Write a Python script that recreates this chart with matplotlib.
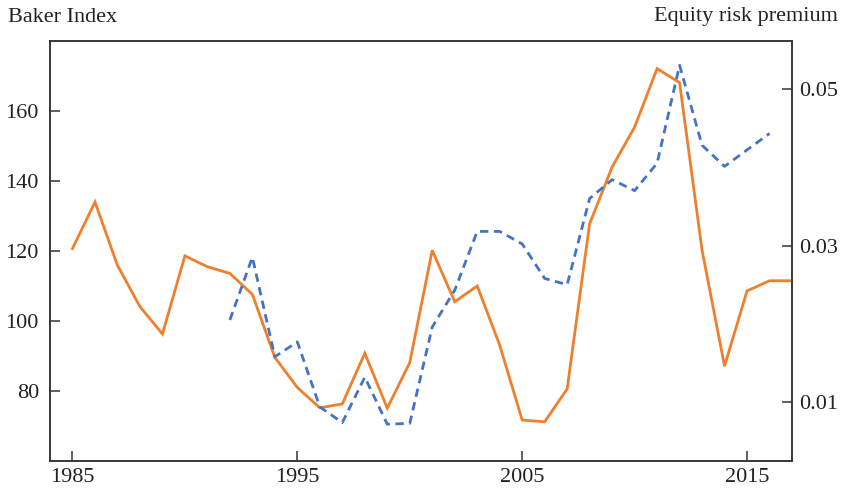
import matplotlib
matplotlib.use("Agg")
import matplotlib.pyplot as plt

# Baker index (left axis), annual 1985-2017
baker_years = list(range(1985, 2018))
baker_index = [120.7, 134.0, 115.9, 104.1, 96.3, 118.6, 115.5, 113.6, 107.6, 89.6,
               81.0, 75.2, 76.3, 90.8, 75.1, 88.1, 120.2, 105.5, 110.0, 93.1,
               71.7, 71.2, 80.6, 127.8, 144.0, 155.4, 172.1, 168.1, 120.2, 87.1,
               108.6, 111.5, 111.5]

# Equity risk premium (right axis), annual 1992-2016
erp_years = list(range(1992, 2017))
erp_values = [0.0205, 0.0285, 0.0158, 0.0177, 0.0094, 0.0074, 0.0132, 0.0072, 0.0073,
              0.0196, 0.0243, 0.0318, 0.0318, 0.0302, 0.0258, 0.0250, 0.0360, 0.0384,
              0.0370, 0.0405, 0.0530, 0.0428, 0.0401, 0.0422, 0.0443]

x_ticks = [1985, 1995, 2005, 2015]
left_ticks = [80, 100, 120, 140, 160]
right_ticks = [0.01, 0.03, 0.05]
right_tick_labels = ["0.01", "0.03", "0.05"]

plt.rcParams["font.family"] = ["Liberation Serif", "DejaVu Serif"]
plt.rcParams["font.size"] = 16

orange = "#F07F2D"
blue = "#4472C4"
spine_col = "#333333"
text_col = "#222222"

fig = plt.figure(figsize=(8.42, 4.88), dpi=100)
ax = fig.add_axes([50 / 842, 1 - 461 / 488, (792 - 50) / 842, (461 - 41) / 488])
ax2 = ax.twinx()

ax.plot(baker_years, baker_index, color=orange, lw=2.0, solid_joinstyle="miter", zorder=3)
ax2.plot(erp_years, erp_values, color=blue, lw=2.0, dashes=(3.0, 2.0), zorder=2)

ax.set_xlim(1984, 2017)
ax.set_ylim(60, 180)
ax2.set_ylim(0.0025, 0.0561)

ax.set_xticks(x_ticks)
ax.set_yticks(left_ticks)
ax2.set_yticks(right_ticks)
ax2.set_yticklabels(right_tick_labels)

for a in (ax, ax2):
    for s in a.spines.values():
        s.set_color(spine_col)
        s.set_linewidth(1.1)
    a.tick_params(direction="in", length=7, width=1.1, color=spine_col,
                  labelcolor=text_col, labelsize=16)
ax.tick_params(axis="y", pad=8)
ax.tick_params(axis="x", pad=5)
ax2.tick_params(axis="y", pad=5)

fig.text(8 / 842, 1 - 17 / 488, "Baker Index", ha="left", va="center",
         fontsize=16, color=text_col)
fig.text(838 / 842, 1 - 17 / 488, "Equity risk premium", ha="right", va="center",
         fontsize=16, color=text_col)

fig.savefig("out.png", dpi=100)
